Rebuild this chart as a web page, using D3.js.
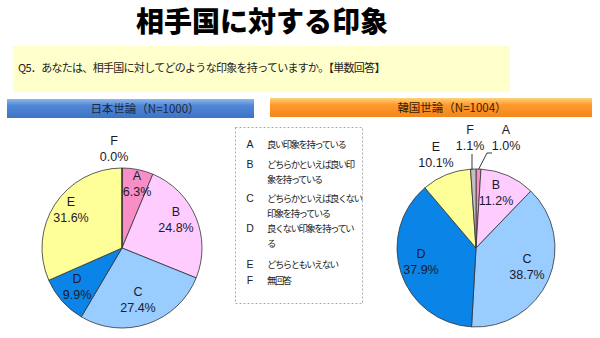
<!DOCTYPE html>
<html><head><meta charset="utf-8">
<script src="https://cdn.jsdelivr.net/npm/d3@7"></script>
<style>
body{margin:0;background:#fff;}
svg{display:block;font-family:"Noto Sans CJK JP","Noto Sans",sans-serif;}
</style></head>
<body>
<script>
const categories = ["A","B","C","D","E","F"];
const japanValues = [6.3, 24.8, 27.4, 9.9, 31.6, 0.0];
const koreaValues = [1.0, 11.2, 38.7, 37.9, 10.1, 1.1];
const sliceColors = ["#f78fc6","#ffccff","#99ccff","#0a84e6","#ffff99","#c0c0c0"];
const legendTexts = [
  ["良い印象を持っている"],
  ["どちらかといえば良い印","象を持っている"],
  ["どちらかといえば良くない","印象を持っている"],
  ["良くない印象を持ってい","る"],
  ["どちらともいえない"],
  ["無回答"]
];
const titleText = "相手国に対する印象";
const questionText = "Q5．あなたは、相手国に対してどのような印象を持っていますか。【単数回答】";
const japanHeader = "日本世論（N=1000）";
const koreaHeader = "韓国世論（N=1004）";

const W = 600, H = 338;
const svg = d3.select("body").append("svg").attr("width", W).attr("height", H);
const defs = svg.append("defs");

function grad(id, c1, c2, c3){
  const g = defs.append("linearGradient").attr("id", id).attr("x1",0).attr("y1",0).attr("x2",0).attr("y2",1);
  g.append("stop").attr("offset","0%").attr("stop-color",c1);
  g.append("stop").attr("offset","35%").attr("stop-color",c2);
  g.append("stop").attr("offset","100%").attr("stop-color",c3);
}
grad("gBlue","#8fb8ec","#4f86d6","#3e73c4");
grad("gOrange","#ffd27a","#ff9a2e","#f2861a");

// title
svg.append("text").attr("x", 262).attr("y", 32).attr("text-anchor","middle")
  .attr("font-size", 28).attr("font-weight", 900).attr("fill","#000").text(titleText);

// question box
svg.append("rect").attr("x", 13).attr("y", 46).attr("width", 497).attr("height", 46).attr("fill","#ffffcc");
svg.append("text").attr("x", 18).attr("y", 72).attr("font-size", 11).attr("letter-spacing", -0.7)
  .attr("fill","#222").text(questionText);

// headers
svg.append("rect").attr("x",7).attr("y",99).attr("width",247).attr("height",19).attr("fill","url(#gBlue)");
svg.append("text").attr("x",145).attr("y",113).attr("text-anchor","middle").attr("font-size",11.5).attr("fill","#1a2a40").text(japanHeader);
svg.append("rect").attr("x",270).attr("y",98).attr("width",322).attr("height",19).attr("fill","url(#gOrange)");
svg.append("text").attr("x",452).attr("y",112).attr("text-anchor","middle").attr("font-size",11.5).attr("fill","#3a2000").text(koreaHeader);

// legend
svg.append("rect").attr("x",235.5).attr("y",127.5).attr("width",127).attr("height",176)
  .attr("fill","#fff").attr("stroke","#aaa").attr("stroke-dasharray","2,2");
const rowY = [144, 164, 198, 228, 264, 280];
const lg = svg.append("g").attr("font-size", 9.4).attr("fill","#222");
categories.forEach((c,i)=>{
  lg.append("text").attr("x",250).attr("y",rowY[i]+4).attr("text-anchor","middle")
    .attr("font-size",10.5).attr("font-family","'Liberation Sans', sans-serif").text(c);
  legendTexts[i].forEach((t,j)=>{
    lg.append("text").attr("x",267).attr("y",rowY[i]+3.5+j*15).attr("letter-spacing",-1.5).text(t);
  });
});

// pies
const pie = d3.pie().sort(null).value(d=>d.v);
function drawPie(values, cx, cy, r, labelPos, leaders){
  const data = categories.map((c,i)=>({c, v:values[i], i}));
  const arcs = pie(data);
  const arc = d3.arc().innerRadius(0).outerRadius(r);
  const g = svg.append("g").attr("transform",`translate(${cx},${cy})`);
  g.selectAll("path").data(arcs).join("path")
    .attr("d", arc).attr("fill", d=>sliceColors[d.data.i])
    .attr("stroke","#333").attr("stroke-width",0.8);
  const lab = svg.append("g").attr("font-size",12.5).attr("fill","#1a1a2a").attr("text-anchor","middle")
    .attr("font-family","'Liberation Sans', 'DejaVu Sans', sans-serif");
  arcs.forEach((d,k)=>{
    const p = labelPos[k];
    lab.append("text").attr("x",p[0]).attr("y",p[1]).text(d.data.c);
    lab.append("text").attr("x",p[0]).attr("y",p[1]+16).text(d.data.v.toFixed(1)+"%");
  });
  (leaders||[]).forEach(l=>{
    svg.append("polyline").attr("points", l.map(p=>p.join(",")).join(" "))
      .attr("fill","none").attr("stroke","#222").attr("stroke-width",0.9);
  });
}
drawPie(japanValues, 122, 248, 80,
  [[137,180],[176,216],[138,296],[77,283],[71,206],[114,145]]);
drawPie(koreaValues, 476, 248, 79,
  [[506,134],[496,189],[527,263],[421,258],[436,151],[470,134]],
  [[[472,154],[472,170]],[[492,153],[487,153],[478.5,169.5]]]);
</script>
</body></html>
